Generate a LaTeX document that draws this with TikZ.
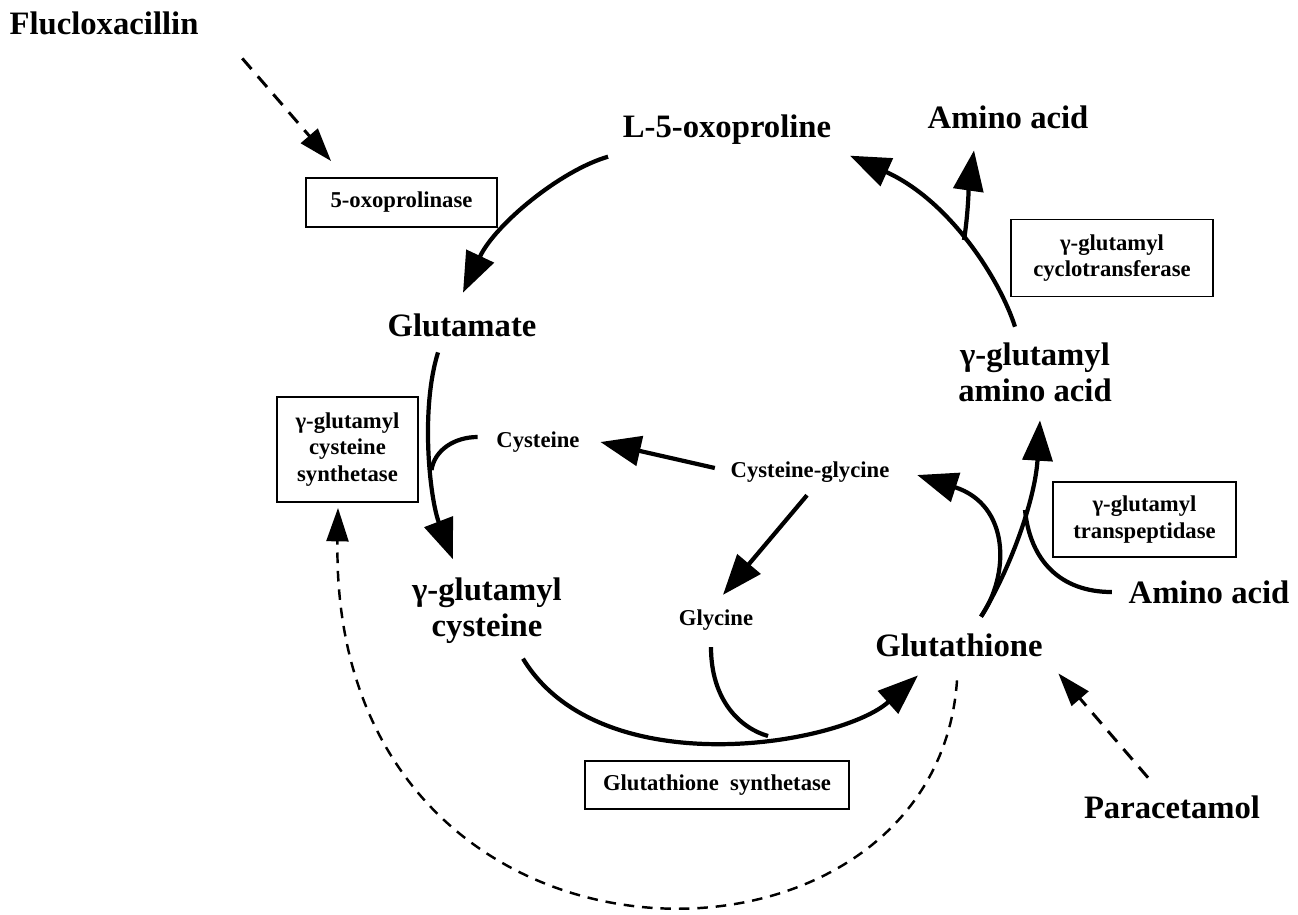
\documentclass[tikz,border=0pt]{standalone}
\usepackage{fontspec}
\setmainfont{Liberation Serif}
\usetikzlibrary{arrows.meta}

\begin{document}
\begin{tikzpicture}[
  x=0.02cm, y=-0.02cm,
  metab/.style = {inner sep=2pt, align=center,
                  font=\bfseries\fontsize{18.6}{20.4}\selectfont},
  minor/.style = {inner sep=2pt, align=center,
                  font=\bfseries\fontsize{12.9}{15}\selectfont},
  enz/.style   = {draw, line width=1.1pt, inner sep=2pt, align=center,
                  font=\bfseries\fontsize{12.9}{15}\selectfont},
  arr/.style   = {-{Triangle[length=23pt,width=17pt]}, line width=2.4pt},
  drug/.style  = {-{Triangle[length=19pt,width=12.5pt]}, line width=1.7pt,
                  dash pattern=on 8pt off 5.5pt},
]
  \useasboundingbox (0,0) rectangle (1298,914);

  % metabolites
  \node[metab] (flu)  at (104,23)   {Flucloxacillin};
  \node[metab] (oxo)  at (727,130)  {L-5-oxoproline};
  \node[metab] (aa1)  at (1008,117) {Amino acid};
  \node[metab] (glu)  at (462,325)  {Glutamate};
  \node[metab] (gaa)  at (1035,372) {γ-glutamyl\\amino acid};
  \node[metab] (gcys) at (487,611)  {γ-glutamyl\\cysteine};
  \node[metab] (gsh)  at (959,645)  {Glutathione};
  \node[metab] (aa2)  at (1209,592) {Amino acid};
  \node[metab] (par)  at (1172,807) {Paracetamol};
  \node[minor] (cys)  at (538,442)  {Cysteine};
  \node[minor] (cg)   at (810,472)  {Cysteine-glycine};
  \node[minor] (gly)  at (716,620)  {Glycine};

  % enzymes
  \node[enz, minimum width=3.82cm, minimum height=0.98cm] (b5ox) at (401.5,202.5) {5-oxoprolinase};
  \node[enz, minimum width=4.04cm, minimum height=1.54cm] (bcyc) at (1112,258) {γ-glutamyl\\cyclotransferase};
  \node[enz, minimum width=2.82cm, minimum height=2.10cm] (bsyn) at (347.5,449.5) {γ-glutamyl\\cysteine\\synthetase};
  \node[enz, minimum width=3.66cm, minimum height=1.50cm] (btp)  at (1144.5,519.5) {γ-glutamyl\\transpeptidase};
  \node[enz, minimum width=5.28cm, minimum height=0.96cm] (bgss) at (717,785) {Glutathione~~synthetase};

  % junctions
  \coordinate (jcys) at (431.5,470);
  \coordinate (jgly) at (768,736);
  \coordinate (jaa)  at (1025,510);
  \coordinate (jcyc) at (964,240);

  % cycle
  \draw[arr] ([shift={(-11,8)}]oxo.south west) .. controls +(-48,14) and +(32,-68) .. ([shift={(1,-17)}]glu.north);
  \draw[arr] ([shift={(-24,12)}]glu.south) .. controls +(-18,58) and +(-23,-60) .. ([shift={(-34,-15)}]gcys.north);
  \draw[line width=2.4pt] ([shift={(-15,-5)}]cys.west) .. controls +(-23,0) and +(3,-20) .. (jcys);
  \draw[arr] ([shift={(36,11)}]gcys.south) .. controls +(77,127) and +(-78,70) .. ([shift={(-41,15)}]gsh.south);
  \draw[line width=2.4pt] ([shift={(-5,13)}]gly.south) .. controls +(0,53) and +(-28,-8) .. (jgly);
  \draw[arr] ([shift={(22,-13)}]gsh.north) .. controls +(29,-42) and +(93,30) .. ([shift={(24,3)}]cg.east);
  \draw[arr] ([shift={(22,-13)}]gsh.north) .. controls +(29,-47) and +(-5,80) .. ([shift={(5,15)}]gaa.south);
  \draw[line width=2.4pt] ([shift={(-13,0)}]aa2.west) .. controls +(-52,0) and +(5,50) .. (jaa);
  \draw[arr] ([shift={(-20,-12)}]gaa.north) .. controls +(-15,-47) and +(100,45) .. ([shift={(15,7)}]oxo.south east);
  \draw[arr] (jcyc) .. controls +(4,-25) and +(-5,35) .. ([shift={(-34,18)}]aa1.south);
  \draw[arr] ([shift={(-12,-4)}]cg.west) -- ([shift={(17,0)}]cys.east);
  \draw[arr] ([shift={(-3,9)}]cg.south) -- ([shift={(7,-11)}]gly.north);

  % drugs
  \draw[drug] ([shift={(40,20)}]flu.south east) -- ([shift={(26,-16)}]b5ox.north west);
  \draw[drug] ([shift={(-24,-14)}]par.north) -- ([shift={(12,13)}]gsh.south east);
  \draw[drug, line width=1.4pt, dash pattern=on 6pt off 4.5pt]
    ([shift={(-2,20)}]gsh.south) .. controls (935,1005) and (330,1005) .. ([shift={(-9.5,5)}]bsyn.south);
\end{tikzpicture}
\end{document}
